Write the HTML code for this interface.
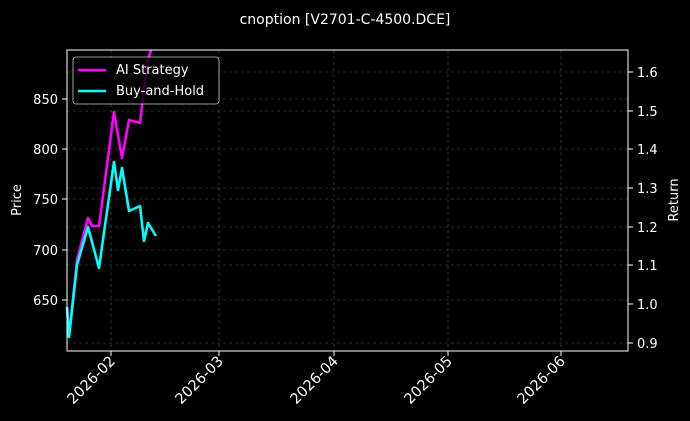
<!DOCTYPE html>
<html><head><style>body{margin:0;background:#000}svg{display:block}text{font-family:"DejaVu Sans","Liberation Sans",sans-serif;fill:#fff}</style></head><body>
<svg width="690" height="421" viewBox="0 0 690 421">
<rect width="690" height="421" fill="#000"/>
<text x="345" y="24" font-size="14" text-anchor="middle">cnoption [V2701-C-4500.DCE]</text>
<g stroke="#555" stroke-dasharray="3,3" stroke-width="0.6">
<line x1="111" y1="50" x2="111" y2="351"/><line x1="219" y1="50" x2="219" y2="351"/><line x1="334" y1="50" x2="334" y2="351"/><line x1="448" y1="50" x2="448" y2="351"/><line x1="561" y1="50" x2="561" y2="351"/>
<line x1="67" y1="99" x2="628" y2="99"/><line x1="67" y1="149" x2="628" y2="149"/><line x1="67" y1="199" x2="628" y2="199"/><line x1="67" y1="250" x2="628" y2="250"/><line x1="67" y1="300" x2="628" y2="300"/>
<line x1="67" y1="72" x2="628" y2="72"/><line x1="67" y1="111" x2="628" y2="111"/><line x1="67" y1="188" x2="628" y2="188"/><line x1="67" y1="227" x2="628" y2="227"/><line x1="67" y1="265" x2="628" y2="265"/><line x1="67" y1="343" x2="628" y2="343"/>
</g>
<polyline fill="none" stroke="#ff00ff" stroke-width="2.6" stroke-linejoin="round" points="67,307 69,337 77,260 88,218 92,226 99,226 114,112 122,158 129,120 140,123 147,63 151,50"/>
<polyline fill="none" stroke="#00ffff" stroke-width="2.6" stroke-linejoin="round" points="67,307 69,337 77,265 88,227 99,268 114,162 118,190 122,168 129,211 140,206 144,241 148,223 156,236"/>
<rect x="67" y="50" width="561" height="301" fill="none" stroke="#fff" stroke-width="1"/>
<g stroke="#fff"><line x1="62" y1="99" x2="67" y2="99"/><line x1="62" y1="149" x2="67" y2="149"/><line x1="62" y1="199" x2="67" y2="199"/><line x1="62" y1="250" x2="67" y2="250"/><line x1="62" y1="300" x2="67" y2="300"/>
<line x1="628" y1="72" x2="633" y2="72"/><line x1="628" y1="111" x2="633" y2="111"/><line x1="628" y1="149" x2="633" y2="149"/><line x1="628" y1="188" x2="633" y2="188"/><line x1="628" y1="227" x2="633" y2="227"/><line x1="628" y1="265" x2="633" y2="265"/><line x1="628" y1="304" x2="633" y2="304"/><line x1="628" y1="343" x2="633" y2="343"/>
<line x1="111" y1="351" x2="111" y2="356"/><line x1="219" y1="351" x2="219" y2="356"/><line x1="334" y1="351" x2="334" y2="356"/><line x1="448" y1="351" x2="448" y2="356"/><line x1="561" y1="351" x2="561" y2="356"/></g>
<g font-size="13" text-anchor="end"><text x="58" y="104">850</text><text x="58" y="154">800</text><text x="58" y="204">750</text><text x="58" y="255">700</text><text x="58" y="305">650</text></g>
<g font-size="13"><text x="637" y="77">1.6</text><text x="637" y="116">1.5</text><text x="637" y="154">1.4</text><text x="637" y="193">1.3</text><text x="637" y="232">1.2</text><text x="637" y="270">1.1</text><text x="637" y="309">1.0</text><text x="637" y="348">0.9</text></g>
<g font-size="14.5" text-anchor="end">
<text transform="translate(116,362) rotate(-45)">2026-02</text><text transform="translate(224,362) rotate(-45)">2026-03</text><text transform="translate(339,362) rotate(-45)">2026-04</text><text transform="translate(453,362) rotate(-45)">2026-05</text><text transform="translate(566,362) rotate(-45)">2026-06</text></g>
<text transform="translate(21,200) rotate(-90)" font-size="13" text-anchor="middle">Price</text>
<text transform="translate(678,200) rotate(-90)" font-size="13" text-anchor="middle">Return</text>
<rect x="73" y="57" width="146" height="47" rx="3" fill="#000" fill-opacity="0.8" stroke="#ccc" stroke-width="0.8"/>
<line x1="78" y1="70" x2="106" y2="70" stroke="#ff00ff" stroke-width="2.6"/><text x="116" y="74" font-size="13">AI Strategy</text>
<line x1="78" y1="91" x2="106" y2="91" stroke="#00ffff" stroke-width="2.6"/><text x="116" y="95" font-size="13">Buy-and-Hold</text>
</svg></body></html>
